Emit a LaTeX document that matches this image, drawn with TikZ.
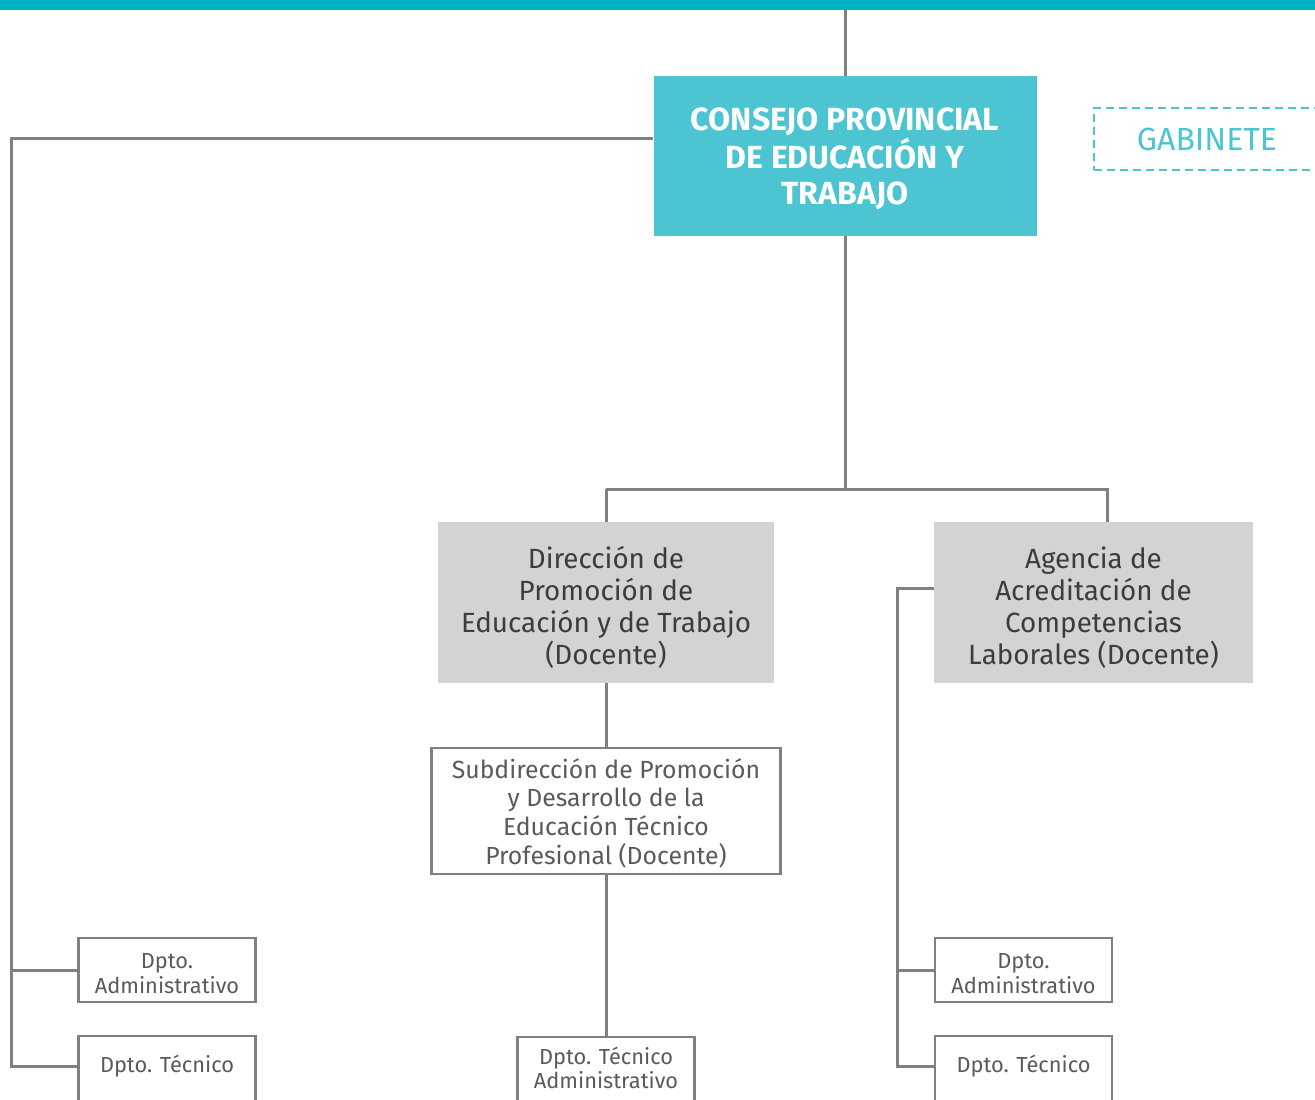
\documentclass[tikz,border=0pt]{standalone}
\usepackage{fontspec}
\setmainfont{Fira Sans}
\newfontfamily\condfont[FakeStretch=1.0]{Fira Sans}
\definecolor{barteal}{HTML}{00B0C4}
\definecolor{boxteal}{HTML}{4DC4D1}
\definecolor{boxgray}{HTML}{D1D3D4}
\definecolor{linegray}{HTML}{808080}
\definecolor{txtdark}{HTML}{3C3C3C}
\definecolor{txtgray}{HTML}{5A5A5A}
\tikzset{
  conn/.style={draw=linegray, line width=1.5pt},
  topbox/.style={fill=boxteal, inner sep=0pt, align=center, text=white,
     font=\condfont\bfseries\fontsize{16}{17.8}\selectfont},
  gabbox/.style={draw=boxteal, dashed, dash pattern=on 4pt off 2.5pt, line width=1pt,
     inner sep=0pt, text=boxteal, font=\condfont\fontsize{16}{18}\selectfont},
  graybox/.style={fill=boxgray, inner sep=0pt, align=center, text=txtdark,
     font=\fontsize{13.9}{16}\selectfont},
  subbox/.style={draw=linegray, line width=1.25pt, fill=white, inner sep=0pt, align=center,
     text=txtgray, font=\fontsize{12.4}{14.3}\selectfont},
  dbox/.style={draw=linegray, line width=1.25pt, fill=white, inner sep=0pt, align=center,
     text=txtgray, font=\fontsize{10.9}{12.3}\selectfont, minimum width=88.5pt},
  dtext/.style={inner sep=0pt, align=center, text=txtgray, font=\fontsize{10.9}{12.3}\selectfont}
}
\begin{document}
\begin{tikzpicture}[x=0.5pt,y=-0.5pt]
\useasboundingbox (0,0) rectangle (1315,1099);
\clip (0,0) rectangle (1315,1099);
% top bar
\fill[barteal] (0,0) rectangle (1315,10);
\coordinate (topc) at (845,10);
% nodes
\node[topbox, minimum width=191.5pt, minimum height=80pt] (consejo) at (845,156)
  {\rule{0pt}{14pt}CONSEJO PROVINCIAL\\DE EDUCACIÓN Y\\TRABAJO};
\node[gabbox, minimum width=113pt, minimum height=31pt] (gab) at (1207,139) {GABINETE};
\node[graybox, minimum width=168pt, minimum height=80.5pt] (dir) at (606,602.5)
  {\rule{0pt}{16pt}Dirección de\\Promoción de\\Educación y de Trabajo\\(Docente)};
\node[graybox, minimum width=159.5pt, minimum height=80.5pt] (age) at (1093.5,602.5)
  {\rule{0pt}{16pt}Agencia de\\Acreditación de\\Competencias\\Laborales (Docente)};
\node[subbox, minimum width=174.5pt, minimum height=63pt] (sub) at (606,811)
  {\rule{0pt}{12pt}Subdirección de Promoción\\y Desarrollo de la\\Educación Técnico\\Profesional (Docente)};
% left departments
\node[dbox, minimum height=32pt] (lda) at (167,970) {\rule{0pt}{11pt}Dpto.\\Administrativo};
\node[dbox, minimum height=40pt] (ldt) at (167,1076) {};
\node[dtext] (ldtt) at (167,1066) {Dpto. Técnico};
% middle department
\node[dbox, minimum height=40pt] (dta) at (606,1077) {};
\node[dtext] (dtat) at (606,1068) {Dpto. Técnico\\Administrativo};
% right departments
\node[dbox, minimum height=32pt] (rda) at (1023.5,970) {\rule{0pt}{11pt}Dpto.\\Administrativo};
\node[dbox, minimum height=40pt] (rdt) at (1023.5,1076) {};
\node[dtext] (rdtt) at (1023.5,1066) {Dpto. Técnico};
% coordinates
\coordinate (cl) at (11,138);
\coordinate (cl1) at (11,970);
\coordinate (cl2) at (11,1066);
\coordinate (hb) at (845,489);
\coordinate (hl) at (606,489);
\coordinate (hr) at (1107,489);
\coordinate (ar) at (1107,522);
\coordinate (rl) at (897,588);
\coordinate (rl1) at (897,970);
\coordinate (rl2) at (897,1066);
% connectors
\draw[conn] (topc) -- (consejo.north);
\draw[conn] (consejo.west |- cl) -- (cl) -- (cl2) -- (ldt.west |- cl2);
\draw[conn] (cl1) -- (lda.west);
\draw[conn] (consejo.south) -- (hb);
\draw[conn] (hl) -- (hr) -- (ar);
\draw[conn] (hl) -- (dir.north);
\draw[conn] (dir.south) -- (sub.north);
\draw[conn] (sub.south) -- (dta.north);
\draw[conn] (age.west |- rl) -- (rl) -- (rl2) -- (rdt.west |- rl2);
\draw[conn] (rl1) -- (rda.west);
\end{tikzpicture}
\end{document}
